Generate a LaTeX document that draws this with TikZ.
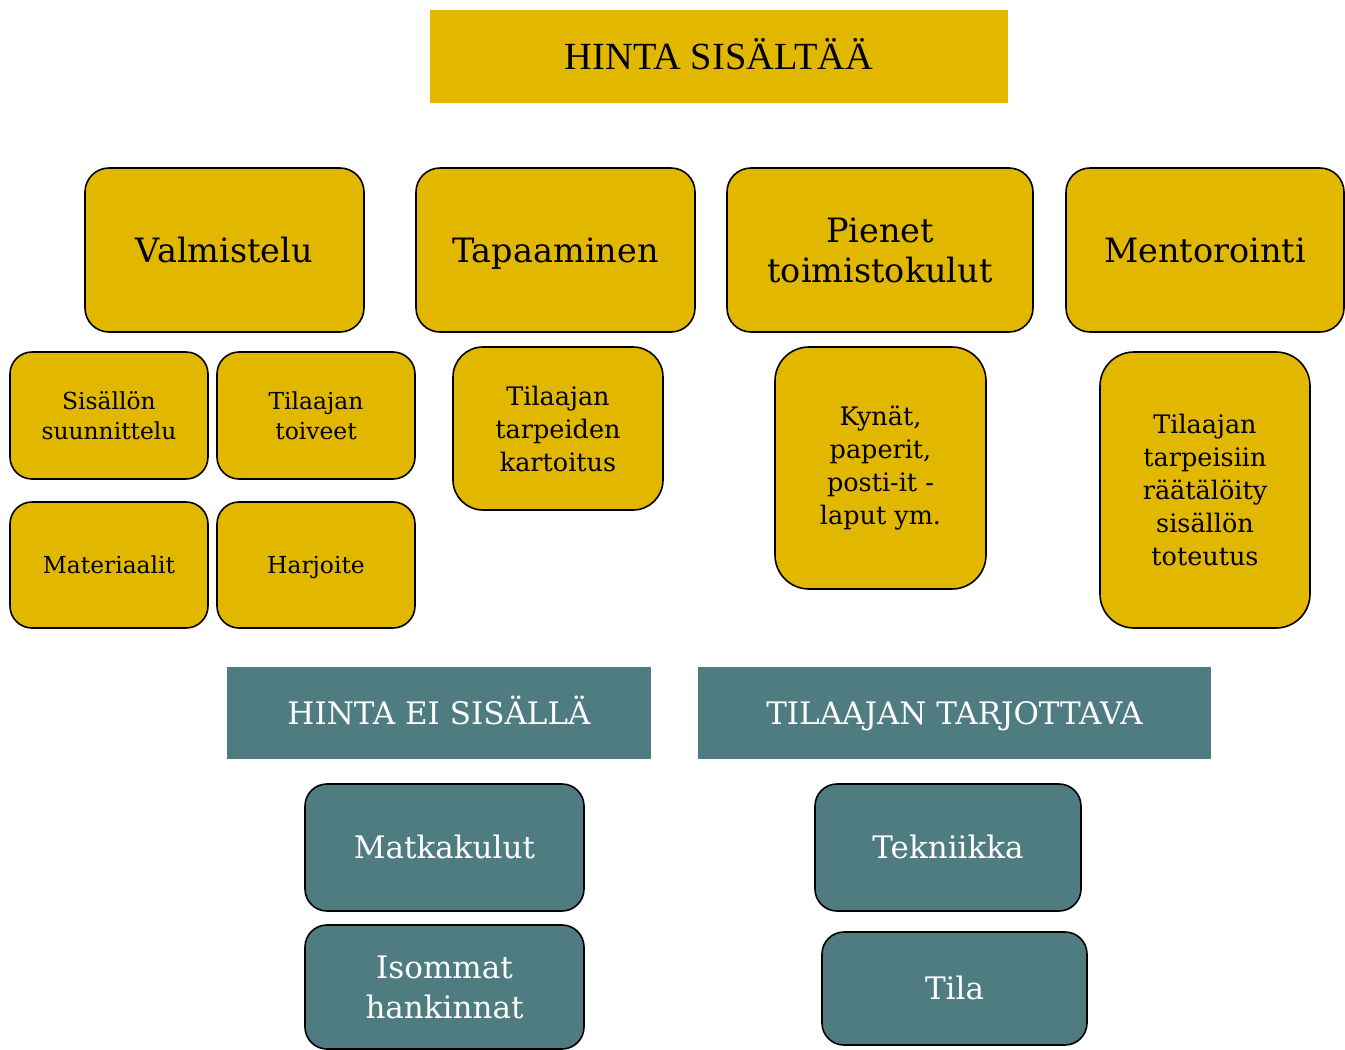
\documentclass[tikz,border=0pt]{standalone}
\usepackage{fontspec}
\setmainfont{DejaVu Serif}
\newfontfamily\hdrfont{Liberation Serif}
\definecolor{gold}{HTML}{E2B700}
\definecolor{teal}{HTML}{4E7C80}
\begin{document}
\begin{tikzpicture}[x=1pt,y=-1pt,
  gbox/.style={draw=black,line width=1.6pt,fill=gold,rounded corners=24pt,align=center,inner sep=0pt,text=black},
  tbox/.style={draw=black,line width=1.6pt,fill=teal,rounded corners=22pt,align=center,inner sep=0pt,text=white},
  ghead/.style={fill=gold,align=center,inner sep=0pt,text=black,font=\hdrfont\fontsize{38.4}{42}\selectfont,text height=25.4pt,text depth=0pt},
  thead/.style={fill=teal,align=center,inner sep=0pt,text=white,font=\fontsize{31}{36}\selectfont,text height=22.6pt,text depth=0pt},
  big/.style={font=\fontsize{33.5}{40}\selectfont},
  bigone/.style={big,text height=24.5pt,text depth=0pt},
  tbig/.style={font=\fontsize{31}{40}\selectfont},
  tbigone/.style={tbig,text height=22.6pt,text depth=0pt},
  mid/.style={font=\fontsize{25.5}{33}\selectfont},
  small/.style={font=\fontsize{23.4}{30}\selectfont},
  smallone/.style={small,text height=17pt,text depth=0pt},
]
\useasboundingbox (0,0) rectangle (1345,1050);
\node[ghead,minimum width=578pt,minimum height=93pt] (h1) at (719,56.5) {HINTA SISÄLTÄÄ};

\node[gbox,bigone,minimum width=279pt,minimum height=164pt] (valm) at (224.5,250) {Valmistelu};
\node[gbox,bigone,minimum width=279pt,minimum height=164pt] (tapa) at (555.5,250) {Tapaaminen};
\node[gbox,big,minimum width=306pt,minimum height=164pt] (pien) at (880,250) {Pienet\\toimistokulut};
\node[gbox,bigone,minimum width=278pt,minimum height=164pt] (ment) at (1205,250) {Mentorointi};

\node[gbox,small,minimum width=198pt,minimum height=127pt,rounded corners=22pt] (sis) at (109,415.5) {Sisällön\\suunnittelu};
\node[gbox,small,minimum width=198pt,minimum height=127pt,rounded corners=22pt] (toiv) at (316,415.5) {Tilaajan\\toiveet};
\node[gbox,smallone,minimum width=198pt,minimum height=126pt,rounded corners=22pt] (mat) at (109,565) {Materiaalit};
\node[gbox,smallone,minimum width=198pt,minimum height=126pt,rounded corners=22pt] (harj) at (316,565) {Harjoite};

\node[gbox,mid,minimum width=210pt,minimum height=163pt,rounded corners=30pt] (kart) at (558,428.5) {Tilaajan\\tarpeiden\\kartoitus};
\node[gbox,mid,minimum width=211pt,minimum height=242pt,rounded corners=34pt] (kyn) at (880.5,468) {Kynät,\\paperit,\\posti-it -\\laput ym.};
\node[gbox,mid,minimum width=210pt,minimum height=276pt,rounded corners=34pt] (rat) at (1205,490) {Tilaajan\\tarpeisiin\\räätälöity\\sisällön\\toteutus};

\node[thead,minimum width=424pt,minimum height=92pt] (h2) at (439,713) {HINTA EI SISÄLLÄ};
\node[thead,minimum width=513pt,minimum height=92pt] (h3) at (954.5,713) {TILAAJAN TARJOTTAVA};

\node[tbox,tbigone,minimum width=279pt,minimum height=127pt] (matk) at (444.5,847.5) {Matkakulut};
\node[tbox,tbig,minimum width=279pt,minimum height=124pt] (iso) at (444.5,987) {Isommat\\hankinnat};
\node[tbox,tbigone,minimum width=266pt,minimum height=127pt] (tek) at (948,847.5) {Tekniikka};
\node[tbox,tbigone,minimum width=265pt,minimum height=113pt] (tila) at (954.5,988.5) {Tila};
\end{tikzpicture}
\end{document}
